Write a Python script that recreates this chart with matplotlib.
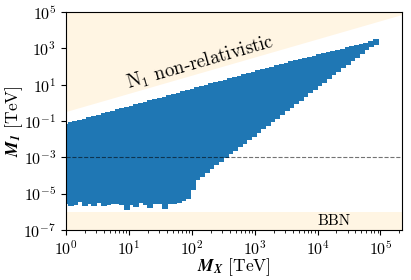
import numpy as np
import matplotlib
matplotlib.use("Agg")
import matplotlib.pyplot as plt
from matplotlib.ticker import LogLocator, NullLocator, FixedLocator

plt.rcParams['mathtext.fontset'] = 'cm'
plt.rcParams['font.family'] = 'serif'
plt.rcParams['font.serif'] = ['cmr10']
plt.rcParams['axes.formatter.use_mathtext'] = True
plt.rcParams['axes.unicode_minus'] = False

# scan columns: M_X grid (log10), 68-point grid from 1 to 1e5 TeV
n_cols = 67
log_mx = np.linspace(0, 5, 68)[:n_cols]

# read-off lower / upper envelope (log10 M1, outer marker edge) for each column
lower_edge = [-5.53, -5.64, -5.62, -5.46, -5.68, -5.55, -5.68, -5.50, -5.64, -5.58,
              -5.56, -5.57, -5.60, -5.90, -5.58, -5.71, -5.50, -5.60, -5.75, -5.55,
              -5.55, -5.80, -5.56, -5.55, -5.52, -5.38, -5.25, -4.76, -4.21, -4.06,
              -3.84, -3.60, -3.42, -3.24, -3.00, -2.82, -2.63, -2.43, -2.23, -2.04,
              -1.84, -1.64, -1.44, -1.24, -1.05, -0.85, -0.65, -0.45, -0.25, -0.06,
              0.14, 0.34, 0.54, 0.74, 0.93, 1.13, 1.33, 1.53, 1.73, 1.92,
              2.12, 2.32, 2.52, 2.71, 2.91, 3.11, 3.31]
upper_edge = [-1.18, -1.11, -1.04, -0.97, -0.89, -0.82, -0.75, -0.68, -0.61, -0.54,
              -0.46, -0.39, -0.32, -0.25, -0.18, -0.11, -0.03, 0.04, 0.11, 0.18,
              0.25, 0.32, 0.40, 0.47, 0.54, 0.61, 0.68, 0.75, 0.82, 0.90,
              0.97, 1.04, 1.11, 1.18, 1.25, 1.33, 1.40, 1.47, 1.54, 1.61,
              1.68, 1.76, 1.83, 1.90, 1.97, 2.04, 2.11, 2.19, 2.26, 2.32,
              2.38, 2.45, 2.51, 2.58, 2.64, 2.71, 2.77, 2.83, 2.90, 2.96,
              3.03, 3.09, 3.15, 3.22, 3.28, 3.35, 3.41]

# M1 scan step (log10) within a column
m1_step = 0.06
half_marker = 0.14  # marker half-size in decades

xs, ys = [], []
for lx, lo, hi in zip(log_mx, lower_edge, upper_edge):
    lo_c, hi_c = lo + half_marker, hi - half_marker
    if lo_c >= hi_c:
        vals = np.array([(lo + hi) / 2])
    else:
        vals = np.append(np.arange(lo_c, hi_c, m1_step), hi_c)
    xs.extend([10**lx] * len(vals))
    ys.extend(10**vals)

xmin, xmax = 1.0, 2.2e5
ymin, ymax = 1e-7, 1e5
nr_ratio = 1/3  # non-relativistic boundary M1 = M_X/3
bbn_m1 = 1e-6
dash_m1 = 1e-3

fig = plt.figure(figsize=(4.11, 2.80), dpi=100)
ax = fig.add_axes([0.1606, 0.179, 0.8174, 0.778])

shade = (1.0, 0.647, 0.0, 0.11)
xl = np.array([xmin, xmax])
ax.fill_between(xl, xl * nr_ratio, ymax, color=shade, lw=0, zorder=0)
ax.fill_between(xl, ymin, bbn_m1, color=shade, lw=0, zorder=0)

ax.scatter(xs, ys, marker='s', s=13, color='#1f77b4', linewidths=0, zorder=2)
ax.axhline(dash_m1, color='black', ls='--', lw=0.8, alpha=0.55, zorder=3)

ax.set_xscale('log')
ax.set_yscale('log')
ax.set_xlim(xmin, xmax)
ax.set_ylim(ymin, ymax)
ax.xaxis.set_major_locator(FixedLocator([1e0, 1e1, 1e2, 1e3, 1e4, 1e5]))
ax.xaxis.set_minor_locator(LogLocator(base=10, subs=np.arange(2, 10), numticks=20))
ax.yaxis.set_major_locator(FixedLocator([1e-7, 1e-5, 1e-3, 1e-1, 1e1, 1e3, 1e5]))
ax.yaxis.set_minor_locator(NullLocator())
ax.tick_params(labelsize=11.5)

ax.text(10, 6, r'N$_1$ non-relativistic', rotation=16, fontsize=13.5,
        ha='left', va='baseline', rotation_mode='anchor')
ax.text(1e4, 1.9e-7, 'BBN', fontsize=11, ha='left', va='baseline')

ax.set_xlabel(r'$\mathbfit{M_X}$ [TeV]', fontsize=12.5, labelpad=-1,
              math_fontfamily='stix')
ax.set_ylabel(r'$\mathbfit{M_1}$ [TeV]', fontsize=12.5, labelpad=-1,
              math_fontfamily='stix')

fig.savefig('out.png', dpi=100)
